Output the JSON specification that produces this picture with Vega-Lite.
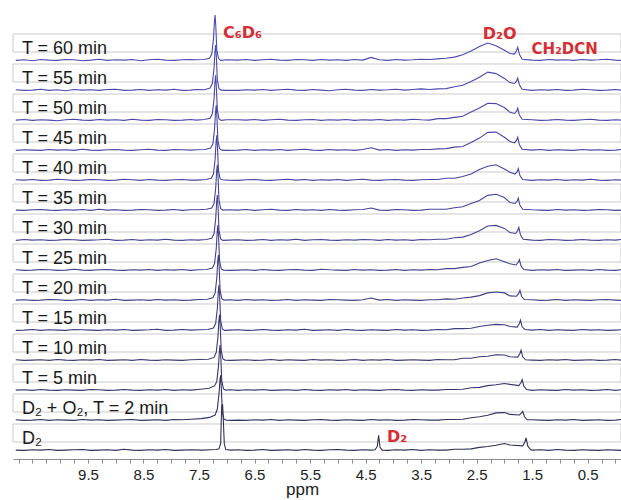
{
"$schema": "https://vega.github.io/schema/vega-lite/v6.json",
"width": 608, "height": 420,
"autosize": {"type": "none"},
"padding": {"left": 13, "top": 34, "right": 0, "bottom": 46},
"background": "white",
"config": {"view": {"stroke": null}, "font": "Liberation Sans",
  "axisX": {"grid": false, "offset": 5, "domainColor": "#8c8c8c", "tickColor": "#8c8c8c", "tickSize": 4,
            "labelFontSize": 15, "labelColor": "#222222", "labelPadding": 4, "labelFont": "Liberation Sans",
            "labelOverlap": false, "labelFlush": false,
            "titleFontSize": 17, "titleFontWeight": "normal", "titleColor": "#222222", "titleFont": "Liberation Sans"}},
"datasets": {
"rows": [{"k":"a","label":"T = 60 min"},{"k":"b","label":"T = 55 min"},{"k":"c","label":"T = 50 min"},{"k":"d","label":"T = 45 min"},{"k":"e","label":"T = 40 min"},{"k":"f","label":"T = 35 min"},{"k":"g","label":"T = 30 min"},{"k":"h","label":"T = 25 min"},{"k":"i","label":"T = 20 min"},{"k":"j","label":"T = 15 min"},{"k":"k","label":"T = 10 min"},{"k":"l","label":"T = 5 min"},{"k":"m","label":"D₂ + O₂, T = 2 min"},{"k":"n","label":"D₂"}],
"spec": [
{"k":"a","x":10.8,"y":12},{"k":"a","x":10.65,"y":14},{"k":"a","x":10.5,"y":11},{"k":"a","x":10.35,"y":15},{"k":"a","x":10.2,"y":13},{"k":"a","x":10.05,"y":12},{"k":"a","x":9.9,"y":15},{"k":"a","x":9.75,"y":14},{"k":"a","x":9.6,"y":11},{"k":"a","x":9.45,"y":13},{"k":"a","x":9.3,"y":16},{"k":"a","x":9.15,"y":12},{"k":"a","x":9.0,"y":14},{"k":"a","x":8.85,"y":13},{"k":"a","x":8.7,"y":15},{"k":"a","x":8.55,"y":11},{"k":"a","x":8.4,"y":14},{"k":"a","x":8.25,"y":16},{"k":"a","x":8.1,"y":13},{"k":"a","x":7.95,"y":12},{"k":"a","x":7.8,"y":14},{"k":"a","x":7.65,"y":15},
{"k":"a","x":7.56,"y":14},{"k":"a","x":7.41,"y":15},{"k":"a","x":7.31,"y":19},{"k":"a","x":7.27,"y":33},{"k":"a","x":7.24,"y":83},{"k":"a","x":7.222,"y":143},{"k":"a","x":7.21,"y":163},{"k":"a","x":7.198,"y":128},{"k":"a","x":7.18,"y":48},{"k":"a","x":7.15,"y":19},{"k":"a","x":7.11,"y":12},{"k":"a","x":7.01,"y":14},
{"k":"a","x":6.8,"y":13},{"k":"a","x":6.65,"y":15},{"k":"a","x":6.5,"y":12},{"k":"a","x":6.35,"y":14},{"k":"a","x":6.2,"y":16},{"k":"a","x":6.05,"y":13},{"k":"a","x":5.9,"y":12},{"k":"a","x":5.75,"y":15},{"k":"a","x":5.6,"y":14},{"k":"a","x":5.45,"y":12},{"k":"a","x":5.3,"y":15},{"k":"a","x":5.15,"y":13},{"k":"a","x":5.0,"y":14},{"k":"a","x":4.85,"y":12},{"k":"a","x":4.7,"y":15},{"k":"a","x":4.55,"y":13},{"k":"a","x":4.4,"y":22},{"k":"a","x":4.25,"y":14},{"k":"a","x":4.1,"y":12},{"k":"a","x":3.95,"y":15},{"k":"a","x":3.8,"y":13},{"k":"a","x":3.65,"y":14},{"k":"a","x":3.5,"y":16},{"k":"a","x":3.35,"y":15},{"k":"a","x":3.2,"y":17},{"k":"a","x":3.05,"y":19},{"k":"a","x":2.9,"y":23},{"k":"a","x":2.75,"y":31},{"k":"a","x":2.6,"y":43},{"k":"a","x":2.45,"y":58},{"k":"a","x":2.3,"y":70},{"k":"a","x":2.15,"y":61},{"k":"a","x":2.0,"y":46},{"k":"a","x":1.9,"y":35},
{"k":"a","x":1.82,"y":33},{"k":"a","x":1.78,"y":45},{"k":"a","x":1.76,"y":56},{"k":"a","x":1.73,"y":32},{"k":"a","x":1.68,"y":16},
{"k":"a","x":1.5,"y":13},{"k":"a","x":1.35,"y":12},{"k":"a","x":1.2,"y":15},{"k":"a","x":1.05,"y":13},{"k":"a","x":0.9,"y":14},{"k":"a","x":0.75,"y":12},{"k":"a","x":0.6,"y":15},{"k":"a","x":0.45,"y":13},{"k":"a","x":0.3,"y":14},{"k":"a","x":0.15,"y":16},{"k":"a","x":0.0,"y":13},{"k":"a","x":-0.1,"y":12},

{"k":"b","x":10.8,"y":14},{"k":"b","x":10.65,"y":12},{"k":"b","x":10.5,"y":13},{"k":"b","x":10.35,"y":16},{"k":"b","x":10.2,"y":12},{"k":"b","x":10.05,"y":14},{"k":"b","x":9.9,"y":11},{"k":"b","x":9.75,"y":15},{"k":"b","x":9.6,"y":13},{"k":"b","x":9.45,"y":14},{"k":"b","x":9.3,"y":12},{"k":"b","x":9.15,"y":15},{"k":"b","x":9.0,"y":16},{"k":"b","x":8.85,"y":12},{"k":"b","x":8.7,"y":13},{"k":"b","x":8.55,"y":15},{"k":"b","x":8.4,"y":12},{"k":"b","x":8.25,"y":14},{"k":"b","x":8.1,"y":13},{"k":"b","x":7.95,"y":16},{"k":"b","x":7.8,"y":12},{"k":"b","x":7.65,"y":13},
{"k":"b","x":7.55,"y":15},{"k":"b","x":7.4,"y":14},{"k":"b","x":7.3,"y":20},{"k":"b","x":7.26,"y":35},{"k":"b","x":7.23,"y":85},{"k":"b","x":7.212,"y":142},{"k":"b","x":7.2,"y":163},{"k":"b","x":7.188,"y":126},{"k":"b","x":7.17,"y":46},{"k":"b","x":7.14,"y":18},{"k":"b","x":7.1,"y":13},{"k":"b","x":7.0,"y":12},
{"k":"b","x":6.8,"y":12},{"k":"b","x":6.65,"y":14},{"k":"b","x":6.5,"y":13},{"k":"b","x":6.35,"y":15},{"k":"b","x":6.2,"y":12},{"k":"b","x":6.05,"y":14},{"k":"b","x":5.9,"y":16},{"k":"b","x":5.75,"y":13},{"k":"b","x":5.6,"y":12},{"k":"b","x":5.45,"y":15},{"k":"b","x":5.3,"y":13},{"k":"b","x":5.15,"y":11},{"k":"b","x":5.0,"y":14},{"k":"b","x":4.85,"y":16},{"k":"b","x":4.7,"y":13},{"k":"b","x":4.55,"y":12},{"k":"b","x":4.4,"y":15},{"k":"b","x":4.25,"y":13},{"k":"b","x":4.1,"y":14},{"k":"b","x":3.95,"y":16},{"k":"b","x":3.8,"y":13},{"k":"b","x":3.65,"y":15},{"k":"b","x":3.5,"y":17},{"k":"b","x":3.35,"y":15},{"k":"b","x":3.2,"y":17},{"k":"b","x":3.05,"y":18},{"k":"b","x":2.9,"y":24},{"k":"b","x":2.75,"y":29},{"k":"b","x":2.6,"y":42},{"k":"b","x":2.45,"y":56},{"k":"b","x":2.3,"y":73},{"k":"b","x":2.15,"y":68},{"k":"b","x":2.0,"y":52},{"k":"b","x":1.9,"y":38},
{"k":"b","x":1.82,"y":35},{"k":"b","x":1.78,"y":43},{"k":"b","x":1.76,"y":53},{"k":"b","x":1.73,"y":31},{"k":"b","x":1.68,"y":16},
{"k":"b","x":1.5,"y":12},{"k":"b","x":1.35,"y":14},{"k":"b","x":1.2,"y":13},{"k":"b","x":1.05,"y":15},{"k":"b","x":0.9,"y":12},{"k":"b","x":0.75,"y":13},{"k":"b","x":0.6,"y":16},{"k":"b","x":0.45,"y":14},{"k":"b","x":0.3,"y":12},{"k":"b","x":0.15,"y":13},{"k":"b","x":0.0,"y":15},{"k":"b","x":-0.1,"y":13},

{"k":"c","x":10.8,"y":13},{"k":"c","x":10.65,"y":15},{"k":"c","x":10.5,"y":12},{"k":"c","x":10.35,"y":14},{"k":"c","x":10.2,"y":13},{"k":"c","x":10.05,"y":11},{"k":"c","x":9.9,"y":14},{"k":"c","x":9.75,"y":16},{"k":"c","x":9.6,"y":13},{"k":"c","x":9.45,"y":12},{"k":"c","x":9.3,"y":15},{"k":"c","x":9.15,"y":13},{"k":"c","x":9.0,"y":14},{"k":"c","x":8.85,"y":12},{"k":"c","x":8.7,"y":16},{"k":"c","x":8.55,"y":13},{"k":"c","x":8.4,"y":12},{"k":"c","x":8.25,"y":15},{"k":"c","x":8.1,"y":14},{"k":"c","x":7.95,"y":12},{"k":"c","x":7.8,"y":13},{"k":"c","x":7.65,"y":15},
{"k":"c","x":7.55,"y":13},{"k":"c","x":7.4,"y":15},{"k":"c","x":7.3,"y":19},{"k":"c","x":7.26,"y":34},{"k":"c","x":7.23,"y":82},{"k":"c","x":7.212,"y":140},{"k":"c","x":7.2,"y":162},{"k":"c","x":7.188,"y":125},{"k":"c","x":7.17,"y":47},{"k":"c","x":7.14,"y":17},{"k":"c","x":7.1,"y":12},{"k":"c","x":7.0,"y":14},
{"k":"c","x":6.8,"y":14},{"k":"c","x":6.65,"y":13},{"k":"c","x":6.5,"y":15},{"k":"c","x":6.35,"y":12},{"k":"c","x":6.2,"y":14},{"k":"c","x":6.05,"y":16},{"k":"c","x":5.9,"y":13},{"k":"c","x":5.75,"y":12},{"k":"c","x":5.6,"y":14},{"k":"c","x":5.45,"y":15},{"k":"c","x":5.3,"y":12},{"k":"c","x":5.15,"y":14},{"k":"c","x":5.0,"y":13},{"k":"c","x":4.85,"y":15},{"k":"c","x":4.7,"y":12},{"k":"c","x":4.55,"y":14},{"k":"c","x":4.4,"y":13},{"k":"c","x":4.25,"y":15},{"k":"c","x":4.1,"y":12},{"k":"c","x":3.95,"y":14},{"k":"c","x":3.8,"y":13},{"k":"c","x":3.65,"y":16},{"k":"c","x":3.5,"y":14},{"k":"c","x":3.35,"y":13},{"k":"c","x":3.2,"y":18},{"k":"c","x":3.05,"y":18},{"k":"c","x":2.9,"y":22},{"k":"c","x":2.75,"y":26},{"k":"c","x":2.6,"y":40},{"k":"c","x":2.45,"y":53},{"k":"c","x":2.3,"y":69},{"k":"c","x":2.15,"y":68},{"k":"c","x":2.0,"y":55},{"k":"c","x":1.9,"y":39},
{"k":"c","x":1.82,"y":35},{"k":"c","x":1.78,"y":43},{"k":"c","x":1.76,"y":53},{"k":"c","x":1.73,"y":30},{"k":"c","x":1.68,"y":16},
{"k":"c","x":1.5,"y":14},{"k":"c","x":1.35,"y":12},{"k":"c","x":1.2,"y":13},{"k":"c","x":1.05,"y":15},{"k":"c","x":0.9,"y":13},{"k":"c","x":0.75,"y":12},{"k":"c","x":0.6,"y":14},{"k":"c","x":0.45,"y":16},{"k":"c","x":0.3,"y":13},{"k":"c","x":0.15,"y":12},{"k":"c","x":0.0,"y":14},{"k":"c","x":-0.1,"y":13},

{"k":"d","x":10.8,"y":12},{"k":"d","x":10.65,"y":14},{"k":"d","x":10.5,"y":13},{"k":"d","x":10.35,"y":12},{"k":"d","x":10.2,"y":15},{"k":"d","x":10.05,"y":13},{"k":"d","x":9.9,"y":14},{"k":"d","x":9.75,"y":12},{"k":"d","x":9.6,"y":16},{"k":"d","x":9.45,"y":13},{"k":"d","x":9.3,"y":12},{"k":"d","x":9.15,"y":14},{"k":"d","x":9.0,"y":15},{"k":"d","x":8.85,"y":13},{"k":"d","x":8.7,"y":12},{"k":"d","x":8.55,"y":14},{"k":"d","x":8.4,"y":16},{"k":"d","x":8.25,"y":13},{"k":"d","x":8.1,"y":12},{"k":"d","x":7.95,"y":15},{"k":"d","x":7.8,"y":14},{"k":"d","x":7.65,"y":13},
{"k":"d","x":7.54,"y":14},{"k":"d","x":7.39,"y":15},{"k":"d","x":7.29,"y":20},{"k":"d","x":7.25,"y":34},{"k":"d","x":7.22,"y":84},{"k":"d","x":7.202,"y":141},{"k":"d","x":7.19,"y":163},{"k":"d","x":7.178,"y":127},{"k":"d","x":7.16,"y":45},{"k":"d","x":7.13,"y":18},{"k":"d","x":7.09,"y":13},{"k":"d","x":6.99,"y":12},
{"k":"d","x":6.8,"y":13},{"k":"d","x":6.65,"y":15},{"k":"d","x":6.5,"y":12},{"k":"d","x":6.35,"y":14},{"k":"d","x":6.2,"y":13},{"k":"d","x":6.05,"y":15},{"k":"d","x":5.9,"y":12},{"k":"d","x":5.75,"y":14},{"k":"d","x":5.6,"y":16},{"k":"d","x":5.45,"y":13},{"k":"d","x":5.3,"y":12},{"k":"d","x":5.15,"y":15},{"k":"d","x":5.0,"y":13},{"k":"d","x":4.85,"y":14},{"k":"d","x":4.7,"y":12},{"k":"d","x":4.55,"y":15},{"k":"d","x":4.4,"y":21},{"k":"d","x":4.25,"y":13},{"k":"d","x":4.1,"y":15},{"k":"d","x":3.95,"y":12},{"k":"d","x":3.8,"y":14},{"k":"d","x":3.65,"y":13},{"k":"d","x":3.5,"y":15},{"k":"d","x":3.35,"y":15},{"k":"d","x":3.2,"y":17},{"k":"d","x":3.05,"y":18},{"k":"d","x":2.9,"y":23},{"k":"d","x":2.75,"y":25},{"k":"d","x":2.6,"y":38},{"k":"d","x":2.45,"y":53},{"k":"d","x":2.3,"y":72},{"k":"d","x":2.15,"y":73},{"k":"d","x":2.0,"y":56},{"k":"d","x":1.9,"y":42},
{"k":"d","x":1.82,"y":37},{"k":"d","x":1.78,"y":46},{"k":"d","x":1.76,"y":56},{"k":"d","x":1.73,"y":31},{"k":"d","x":1.68,"y":16},
{"k":"d","x":1.5,"y":13},{"k":"d","x":1.35,"y":15},{"k":"d","x":1.2,"y":12},{"k":"d","x":1.05,"y":14},{"k":"d","x":0.9,"y":13},{"k":"d","x":0.75,"y":12},{"k":"d","x":0.6,"y":15},{"k":"d","x":0.45,"y":13},{"k":"d","x":0.3,"y":14},{"k":"d","x":0.15,"y":12},{"k":"d","x":0.0,"y":13},{"k":"d","x":-0.1,"y":15},

{"k":"e","x":10.8,"y":14},{"k":"e","x":10.65,"y":13},{"k":"e","x":10.5,"y":15},{"k":"e","x":10.35,"y":12},{"k":"e","x":10.2,"y":13},{"k":"e","x":10.05,"y":16},{"k":"e","x":9.9,"y":14},{"k":"e","x":9.75,"y":12},{"k":"e","x":9.6,"y":13},{"k":"e","x":9.45,"y":15},{"k":"e","x":9.3,"y":14},{"k":"e","x":9.15,"y":12},{"k":"e","x":9.0,"y":13},{"k":"e","x":8.85,"y":16},{"k":"e","x":8.7,"y":14},{"k":"e","x":8.55,"y":12},{"k":"e","x":8.4,"y":15},{"k":"e","x":8.25,"y":13},{"k":"e","x":8.1,"y":12},{"k":"e","x":7.95,"y":14},{"k":"e","x":7.8,"y":15},{"k":"e","x":7.65,"y":13},
{"k":"e","x":7.53,"y":13},{"k":"e","x":7.38,"y":15},{"k":"e","x":7.28,"y":19},{"k":"e","x":7.24,"y":33},{"k":"e","x":7.21,"y":82},{"k":"e","x":7.192,"y":142},{"k":"e","x":7.18,"y":162},{"k":"e","x":7.168,"y":126},{"k":"e","x":7.15,"y":46},{"k":"e","x":7.12,"y":17},{"k":"e","x":7.08,"y":14},{"k":"e","x":6.98,"y":13},
{"k":"e","x":6.8,"y":12},{"k":"e","x":6.65,"y":14},{"k":"e","x":6.5,"y":15},{"k":"e","x":6.35,"y":13},{"k":"e","x":6.2,"y":12},{"k":"e","x":6.05,"y":14},{"k":"e","x":5.9,"y":16},{"k":"e","x":5.75,"y":13},{"k":"e","x":5.6,"y":15},{"k":"e","x":5.45,"y":12},{"k":"e","x":5.3,"y":14},{"k":"e","x":5.15,"y":13},{"k":"e","x":5.0,"y":15},{"k":"e","x":4.85,"y":12},{"k":"e","x":4.7,"y":14},{"k":"e","x":4.55,"y":16},{"k":"e","x":4.4,"y":13},{"k":"e","x":4.25,"y":12},{"k":"e","x":4.1,"y":14},{"k":"e","x":3.95,"y":15},{"k":"e","x":3.8,"y":13},{"k":"e","x":3.65,"y":12},{"k":"e","x":3.5,"y":14},{"k":"e","x":3.35,"y":15},{"k":"e","x":3.2,"y":15},{"k":"e","x":3.05,"y":19},{"k":"e","x":2.9,"y":19},{"k":"e","x":2.75,"y":25},{"k":"e","x":2.6,"y":33},{"k":"e","x":2.45,"y":48},{"k":"e","x":2.3,"y":59},{"k":"e","x":2.15,"y":64},{"k":"e","x":2.0,"y":50},{"k":"e","x":1.9,"y":39},
{"k":"e","x":1.81,"y":33},{"k":"e","x":1.77,"y":41},{"k":"e","x":1.75,"y":51},{"k":"e","x":1.72,"y":28},{"k":"e","x":1.67,"y":15},
{"k":"e","x":1.5,"y":12},{"k":"e","x":1.35,"y":14},{"k":"e","x":1.2,"y":13},{"k":"e","x":1.05,"y":15},{"k":"e","x":0.9,"y":12},{"k":"e","x":0.75,"y":14},{"k":"e","x":0.6,"y":13},{"k":"e","x":0.45,"y":16},{"k":"e","x":0.3,"y":13},{"k":"e","x":0.15,"y":12},{"k":"e","x":0.0,"y":14},{"k":"e","x":-0.1,"y":13},

{"k":"f","x":10.8,"y":13},{"k":"f","x":10.65,"y":12},{"k":"f","x":10.5,"y":14},{"k":"f","x":10.35,"y":15},{"k":"f","x":10.2,"y":13},{"k":"f","x":10.05,"y":12},{"k":"f","x":9.9,"y":14},{"k":"f","x":9.75,"y":13},{"k":"f","x":9.6,"y":15},{"k":"f","x":9.45,"y":12},{"k":"f","x":9.3,"y":16},{"k":"f","x":9.15,"y":13},{"k":"f","x":9.0,"y":14},{"k":"f","x":8.85,"y":12},{"k":"f","x":8.7,"y":13},{"k":"f","x":8.55,"y":15},{"k":"f","x":8.4,"y":14},{"k":"f","x":8.25,"y":12},{"k":"f","x":8.1,"y":13},{"k":"f","x":7.95,"y":15},{"k":"f","x":7.8,"y":12},{"k":"f","x":7.65,"y":14},
{"k":"f","x":7.52,"y":14},{"k":"f","x":7.37,"y":16},{"k":"f","x":7.27,"y":20},{"k":"f","x":7.23,"y":35},{"k":"f","x":7.2,"y":85},{"k":"f","x":7.182,"y":143},{"k":"f","x":7.17,"y":164},{"k":"f","x":7.158,"y":128},{"k":"f","x":7.14,"y":47},{"k":"f","x":7.11,"y":18},{"k":"f","x":7.07,"y":13},{"k":"f","x":6.97,"y":14},
{"k":"f","x":6.8,"y":13},{"k":"f","x":6.65,"y":15},{"k":"f","x":6.5,"y":12},{"k":"f","x":6.35,"y":14},{"k":"f","x":6.2,"y":16},{"k":"f","x":6.05,"y":13},{"k":"f","x":5.9,"y":12},{"k":"f","x":5.75,"y":15},{"k":"f","x":5.6,"y":13},{"k":"f","x":5.45,"y":14},{"k":"f","x":5.3,"y":12},{"k":"f","x":5.15,"y":15},{"k":"f","x":5.0,"y":13},{"k":"f","x":4.85,"y":12},{"k":"f","x":4.7,"y":14},{"k":"f","x":4.55,"y":15},{"k":"f","x":4.4,"y":20},{"k":"f","x":4.25,"y":13},{"k":"f","x":4.1,"y":12},{"k":"f","x":3.95,"y":15},{"k":"f","x":3.8,"y":14},{"k":"f","x":3.65,"y":12},{"k":"f","x":3.5,"y":13},{"k":"f","x":3.35,"y":16},{"k":"f","x":3.2,"y":16},{"k":"f","x":3.05,"y":16},{"k":"f","x":2.9,"y":21},{"k":"f","x":2.75,"y":24},{"k":"f","x":2.6,"y":35},{"k":"f","x":2.45,"y":45},{"k":"f","x":2.3,"y":62},{"k":"f","x":2.15,"y":66},{"k":"f","x":2.0,"y":55},{"k":"f","x":1.9,"y":38},
{"k":"f","x":1.81,"y":35},{"k":"f","x":1.77,"y":43},{"k":"f","x":1.75,"y":53},{"k":"f","x":1.72,"y":29},{"k":"f","x":1.67,"y":16},
{"k":"f","x":1.5,"y":14},{"k":"f","x":1.35,"y":13},{"k":"f","x":1.2,"y":12},{"k":"f","x":1.05,"y":15},{"k":"f","x":0.9,"y":13},{"k":"f","x":0.75,"y":14},{"k":"f","x":0.6,"y":12},{"k":"f","x":0.45,"y":13},{"k":"f","x":0.3,"y":15},{"k":"f","x":0.15,"y":14},{"k":"f","x":0.0,"y":12},{"k":"f","x":-0.1,"y":13},

{"k":"g","x":10.8,"y":12},{"k":"g","x":10.65,"y":15},{"k":"g","x":10.5,"y":13},{"k":"g","x":10.35,"y":14},{"k":"g","x":10.2,"y":12},{"k":"g","x":10.05,"y":13},{"k":"g","x":9.9,"y":15},{"k":"g","x":9.75,"y":14},{"k":"g","x":9.6,"y":12},{"k":"g","x":9.45,"y":13},{"k":"g","x":9.3,"y":14},{"k":"g","x":9.15,"y":16},{"k":"g","x":9.0,"y":12},{"k":"g","x":8.85,"y":13},{"k":"g","x":8.7,"y":15},{"k":"g","x":8.55,"y":12},{"k":"g","x":8.4,"y":14},{"k":"g","x":8.25,"y":13},{"k":"g","x":8.1,"y":16},{"k":"g","x":7.95,"y":13},{"k":"g","x":7.8,"y":12},{"k":"g","x":7.65,"y":14},
{"k":"g","x":7.52,"y":13},{"k":"g","x":7.37,"y":15},{"k":"g","x":7.27,"y":19},{"k":"g","x":7.23,"y":34},{"k":"g","x":7.2,"y":83},{"k":"g","x":7.182,"y":141},{"k":"g","x":7.17,"y":163},{"k":"g","x":7.158,"y":127},{"k":"g","x":7.14,"y":46},{"k":"g","x":7.11,"y":17},{"k":"g","x":7.07,"y":12},{"k":"g","x":6.97,"y":13},
{"k":"g","x":6.8,"y":14},{"k":"g","x":6.65,"y":12},{"k":"g","x":6.5,"y":13},{"k":"g","x":6.35,"y":15},{"k":"g","x":6.2,"y":12},{"k":"g","x":6.05,"y":14},{"k":"g","x":5.9,"y":13},{"k":"g","x":5.75,"y":16},{"k":"g","x":5.6,"y":12},{"k":"g","x":5.45,"y":14},{"k":"g","x":5.3,"y":15},{"k":"g","x":5.15,"y":13},{"k":"g","x":5.0,"y":12},{"k":"g","x":4.85,"y":14},{"k":"g","x":4.7,"y":13},{"k":"g","x":4.55,"y":15},{"k":"g","x":4.4,"y":14},{"k":"g","x":4.25,"y":12},{"k":"g","x":4.1,"y":15},{"k":"g","x":3.95,"y":13},{"k":"g","x":3.8,"y":14},{"k":"g","x":3.65,"y":12},{"k":"g","x":3.5,"y":15},{"k":"g","x":3.35,"y":14},{"k":"g","x":3.2,"y":16},{"k":"g","x":3.05,"y":16},{"k":"g","x":2.9,"y":21},{"k":"g","x":2.75,"y":23},{"k":"g","x":2.6,"y":32},{"k":"g","x":2.45,"y":44},{"k":"g","x":2.3,"y":60},{"k":"g","x":2.15,"y":62},{"k":"g","x":2.0,"y":52},{"k":"g","x":1.9,"y":38},
{"k":"g","x":1.8,"y":35},{"k":"g","x":1.76,"y":45},{"k":"g","x":1.74,"y":55},{"k":"g","x":1.71,"y":30},{"k":"g","x":1.66,"y":16},
{"k":"g","x":1.5,"y":13},{"k":"g","x":1.35,"y":12},{"k":"g","x":1.2,"y":15},{"k":"g","x":1.05,"y":14},{"k":"g","x":0.9,"y":12},{"k":"g","x":0.75,"y":13},{"k":"g","x":0.6,"y":15},{"k":"g","x":0.45,"y":13},{"k":"g","x":0.3,"y":12},{"k":"g","x":0.15,"y":14},{"k":"g","x":0.0,"y":13},{"k":"g","x":-0.1,"y":15},

{"k":"h","x":10.8,"y":14},{"k":"h","x":10.65,"y":12},{"k":"h","x":10.5,"y":13},{"k":"h","x":10.35,"y":15},{"k":"h","x":10.2,"y":14},{"k":"h","x":10.05,"y":12},{"k":"h","x":9.9,"y":13},{"k":"h","x":9.75,"y":16},{"k":"h","x":9.6,"y":13},{"k":"h","x":9.45,"y":12},{"k":"h","x":9.3,"y":14},{"k":"h","x":9.15,"y":15},{"k":"h","x":9.0,"y":13},{"k":"h","x":8.85,"y":12},{"k":"h","x":8.7,"y":14},{"k":"h","x":8.55,"y":13},{"k":"h","x":8.4,"y":15},{"k":"h","x":8.25,"y":12},{"k":"h","x":8.1,"y":14},{"k":"h","x":7.95,"y":13},{"k":"h","x":7.8,"y":15},{"k":"h","x":7.65,"y":12},
{"k":"h","x":7.51,"y":14},{"k":"h","x":7.36,"y":15},{"k":"h","x":7.26,"y":20},{"k":"h","x":7.22,"y":35},{"k":"h","x":7.19,"y":84},{"k":"h","x":7.172,"y":142},{"k":"h","x":7.16,"y":163},{"k":"h","x":7.148,"y":126},{"k":"h","x":7.13,"y":45},{"k":"h","x":7.1,"y":17},{"k":"h","x":7.06,"y":13},{"k":"h","x":6.96,"y":12},
{"k":"h","x":6.8,"y":13},{"k":"h","x":6.65,"y":14},{"k":"h","x":6.5,"y":12},{"k":"h","x":6.35,"y":15},{"k":"h","x":6.2,"y":13},{"k":"h","x":6.05,"y":12},{"k":"h","x":5.9,"y":14},{"k":"h","x":5.75,"y":15},{"k":"h","x":5.6,"y":13},{"k":"h","x":5.45,"y":12},{"k":"h","x":5.3,"y":16},{"k":"h","x":5.15,"y":14},{"k":"h","x":5.0,"y":13},{"k":"h","x":4.85,"y":12},{"k":"h","x":4.7,"y":15},{"k":"h","x":4.55,"y":13},{"k":"h","x":4.4,"y":14},{"k":"h","x":4.25,"y":12},{"k":"h","x":4.1,"y":13},{"k":"h","x":3.95,"y":15},{"k":"h","x":3.8,"y":12},{"k":"h","x":3.65,"y":14},{"k":"h","x":3.5,"y":13},{"k":"h","x":3.35,"y":15},{"k":"h","x":3.2,"y":14},{"k":"h","x":3.05,"y":18},{"k":"h","x":2.9,"y":18},{"k":"h","x":2.75,"y":22},{"k":"h","x":2.6,"y":25},{"k":"h","x":2.45,"y":37},{"k":"h","x":2.3,"y":45},{"k":"h","x":2.15,"y":51},{"k":"h","x":2.0,"y":41},{"k":"h","x":1.9,"y":34},
{"k":"h","x":1.79,"y":30},{"k":"h","x":1.75,"y":39},{"k":"h","x":1.73,"y":48},{"k":"h","x":1.7,"y":27},{"k":"h","x":1.65,"y":15},
{"k":"h","x":1.5,"y":12},{"k":"h","x":1.35,"y":14},{"k":"h","x":1.2,"y":13},{"k":"h","x":1.05,"y":15},{"k":"h","x":0.9,"y":12},{"k":"h","x":0.75,"y":13},{"k":"h","x":0.6,"y":14},{"k":"h","x":0.45,"y":12},{"k":"h","x":0.3,"y":15},{"k":"h","x":0.15,"y":13},{"k":"h","x":0.0,"y":12},{"k":"h","x":-0.1,"y":14},

{"k":"i","x":10.8,"y":13},{"k":"i","x":10.65,"y":14},{"k":"i","x":10.5,"y":12},{"k":"i","x":10.35,"y":13},{"k":"i","x":10.2,"y":15},{"k":"i","x":10.05,"y":14},{"k":"i","x":9.9,"y":12},{"k":"i","x":9.75,"y":13},{"k":"i","x":9.6,"y":15},{"k":"i","x":9.45,"y":12},{"k":"i","x":9.3,"y":14},{"k":"i","x":9.15,"y":13},{"k":"i","x":9.0,"y":16},{"k":"i","x":8.85,"y":12},{"k":"i","x":8.7,"y":13},{"k":"i","x":8.55,"y":14},{"k":"i","x":8.4,"y":12},{"k":"i","x":8.25,"y":15},{"k":"i","x":8.1,"y":13},{"k":"i","x":7.95,"y":14},{"k":"i","x":7.8,"y":12},{"k":"i","x":7.65,"y":13},
{"k":"i","x":7.5,"y":15},{"k":"i","x":7.35,"y":16},{"k":"i","x":7.25,"y":21},{"k":"i","x":7.21,"y":36},{"k":"i","x":7.18,"y":86},{"k":"i","x":7.162,"y":144},{"k":"i","x":7.15,"y":164},{"k":"i","x":7.138,"y":127},{"k":"i","x":7.12,"y":46},{"k":"i","x":7.09,"y":18},{"k":"i","x":7.05,"y":13},{"k":"i","x":6.95,"y":14},
{"k":"i","x":6.8,"y":12},{"k":"i","x":6.65,"y":15},{"k":"i","x":6.5,"y":13},{"k":"i","x":6.35,"y":14},{"k":"i","x":6.2,"y":12},{"k":"i","x":6.05,"y":13},{"k":"i","x":5.9,"y":15},{"k":"i","x":5.75,"y":12},{"k":"i","x":5.6,"y":14},{"k":"i","x":5.45,"y":13},{"k":"i","x":5.3,"y":12},{"k":"i","x":5.15,"y":15},{"k":"i","x":5.0,"y":14},{"k":"i","x":4.85,"y":13},{"k":"i","x":4.7,"y":12},{"k":"i","x":4.55,"y":14},{"k":"i","x":4.4,"y":20},{"k":"i","x":4.25,"y":13},{"k":"i","x":4.1,"y":15},{"k":"i","x":3.95,"y":12},{"k":"i","x":3.8,"y":14},{"k":"i","x":3.65,"y":13},{"k":"i","x":3.5,"y":12},{"k":"i","x":3.35,"y":14},{"k":"i","x":3.2,"y":14},{"k":"i","x":3.05,"y":17},{"k":"i","x":2.9,"y":16},{"k":"i","x":2.75,"y":20},{"k":"i","x":2.6,"y":23},{"k":"i","x":2.45,"y":28},{"k":"i","x":2.3,"y":37},{"k":"i","x":2.15,"y":40},{"k":"i","x":2.0,"y":37},{"k":"i","x":1.9,"y":27},
{"k":"i","x":1.78,"y":26},{"k":"i","x":1.74,"y":36},{"k":"i","x":1.72,"y":46},{"k":"i","x":1.69,"y":25},{"k":"i","x":1.64,"y":15},
{"k":"i","x":1.5,"y":14},{"k":"i","x":1.35,"y":12},{"k":"i","x":1.2,"y":13},{"k":"i","x":1.05,"y":15},{"k":"i","x":0.9,"y":12},{"k":"i","x":0.75,"y":14},{"k":"i","x":0.6,"y":13},{"k":"i","x":0.45,"y":12},{"k":"i","x":0.3,"y":14},{"k":"i","x":0.15,"y":15},{"k":"i","x":0.0,"y":13},{"k":"i","x":-0.1,"y":12},

{"k":"j","x":10.8,"y":12},{"k":"j","x":10.65,"y":13},{"k":"j","x":10.5,"y":15},{"k":"j","x":10.35,"y":12},{"k":"j","x":10.2,"y":14},{"k":"j","x":10.05,"y":13},{"k":"j","x":9.9,"y":12},{"k":"j","x":9.75,"y":15},{"k":"j","x":9.6,"y":14},{"k":"j","x":9.45,"y":13},{"k":"j","x":9.3,"y":12},{"k":"j","x":9.15,"y":14},{"k":"j","x":9.0,"y":13},{"k":"j","x":8.85,"y":15},{"k":"j","x":8.7,"y":12},{"k":"j","x":8.55,"y":13},{"k":"j","x":8.4,"y":14},{"k":"j","x":8.25,"y":16},{"k":"j","x":8.1,"y":12},{"k":"j","x":7.95,"y":13},{"k":"j","x":7.8,"y":15},{"k":"j","x":7.65,"y":13},
{"k":"j","x":7.49,"y":14},{"k":"j","x":7.34,"y":15},{"k":"j","x":7.24,"y":20},{"k":"j","x":7.2,"y":35},{"k":"j","x":7.17,"y":85},{"k":"j","x":7.152,"y":143},{"k":"j","x":7.14,"y":163},{"k":"j","x":7.128,"y":126},{"k":"j","x":7.11,"y":45},{"k":"j","x":7.08,"y":17},{"k":"j","x":7.04,"y":12},{"k":"j","x":6.94,"y":13},
{"k":"j","x":6.8,"y":14},{"k":"j","x":6.65,"y":12},{"k":"j","x":6.5,"y":13},{"k":"j","x":6.35,"y":15},{"k":"j","x":6.2,"y":13},{"k":"j","x":6.05,"y":12},{"k":"j","x":5.9,"y":14},{"k":"j","x":5.75,"y":13},{"k":"j","x":5.6,"y":16},{"k":"j","x":5.45,"y":12},{"k":"j","x":5.3,"y":13},{"k":"j","x":5.15,"y":14},{"k":"j","x":5.0,"y":12},{"k":"j","x":4.85,"y":15},{"k":"j","x":4.7,"y":13},{"k":"j","x":4.55,"y":12},{"k":"j","x":4.4,"y":14},{"k":"j","x":4.25,"y":13},{"k":"j","x":4.1,"y":12},{"k":"j","x":3.95,"y":15},{"k":"j","x":3.8,"y":13},{"k":"j","x":3.65,"y":14},{"k":"j","x":3.5,"y":12},{"k":"j","x":3.35,"y":13},{"k":"j","x":3.2,"y":15},{"k":"j","x":3.05,"y":14},{"k":"j","x":2.9,"y":18},{"k":"j","x":2.75,"y":18},{"k":"j","x":2.6,"y":19},{"k":"j","x":2.45,"y":25},{"k":"j","x":2.3,"y":29},{"k":"j","x":2.15,"y":32},{"k":"j","x":2.0,"y":31},{"k":"j","x":1.9,"y":25},
{"k":"j","x":1.77,"y":23},{"k":"j","x":1.73,"y":35},{"k":"j","x":1.71,"y":46},{"k":"j","x":1.68,"y":24},{"k":"j","x":1.63,"y":15},
{"k":"j","x":1.5,"y":13},{"k":"j","x":1.35,"y":15},{"k":"j","x":1.2,"y":12},{"k":"j","x":1.05,"y":14},{"k":"j","x":0.9,"y":13},{"k":"j","x":0.75,"y":12},{"k":"j","x":0.6,"y":15},{"k":"j","x":0.45,"y":13},{"k":"j","x":0.3,"y":14},{"k":"j","x":0.15,"y":12},{"k":"j","x":0.0,"y":13},{"k":"j","x":-0.1,"y":14},

{"k":"k","x":10.8,"y":14},{"k":"k","x":10.65,"y":12},{"k":"k","x":10.5,"y":13},{"k":"k","x":10.35,"y":14},{"k":"k","x":10.2,"y":12},{"k":"k","x":10.05,"y":15},{"k":"k","x":9.9,"y":13},{"k":"k","x":9.75,"y":12},{"k":"k","x":9.6,"y":14},{"k":"k","x":9.45,"y":13},{"k":"k","x":9.3,"y":15},{"k":"k","x":9.15,"y":12},{"k":"k","x":9.0,"y":13},{"k":"k","x":8.85,"y":14},{"k":"k","x":8.7,"y":12},{"k":"k","x":8.55,"y":15},{"k":"k","x":8.4,"y":13},{"k":"k","x":8.25,"y":12},{"k":"k","x":8.1,"y":14},{"k":"k","x":7.95,"y":13},{"k":"k","x":7.8,"y":12},{"k":"k","x":7.65,"y":14},
{"k":"k","x":7.48,"y":15},{"k":"k","x":7.33,"y":16},{"k":"k","x":7.23,"y":22},{"k":"k","x":7.19,"y":38},{"k":"k","x":7.16,"y":88},{"k":"k","x":7.142,"y":144},{"k":"k","x":7.13,"y":164},{"k":"k","x":7.118,"y":126},{"k":"k","x":7.1,"y":45},{"k":"k","x":7.07,"y":17},{"k":"k","x":7.03,"y":13},{"k":"k","x":6.93,"y":12},
{"k":"k","x":6.8,"y":13},{"k":"k","x":6.65,"y":14},{"k":"k","x":6.5,"y":12},{"k":"k","x":6.35,"y":13},{"k":"k","x":6.2,"y":15},{"k":"k","x":6.05,"y":12},{"k":"k","x":5.9,"y":14},{"k":"k","x":5.75,"y":13},{"k":"k","x":5.6,"y":12},{"k":"k","x":5.45,"y":15},{"k":"k","x":5.3,"y":13},{"k":"k","x":5.15,"y":14},{"k":"k","x":5.0,"y":12},{"k":"k","x":4.85,"y":13},{"k":"k","x":4.7,"y":15},{"k":"k","x":4.55,"y":12},{"k":"k","x":4.4,"y":14},{"k":"k","x":4.25,"y":13},{"k":"k","x":4.1,"y":15},{"k":"k","x":3.95,"y":12},{"k":"k","x":3.8,"y":13},{"k":"k","x":3.65,"y":14},{"k":"k","x":3.5,"y":13},{"k":"k","x":3.35,"y":12},{"k":"k","x":3.2,"y":15},{"k":"k","x":3.05,"y":14},{"k":"k","x":2.9,"y":14},{"k":"k","x":2.75,"y":19},{"k":"k","x":2.6,"y":19},{"k":"k","x":2.45,"y":24},{"k":"k","x":2.3,"y":26},{"k":"k","x":2.15,"y":31},{"k":"k","x":2.0,"y":30},{"k":"k","x":1.9,"y":24},
{"k":"k","x":1.76,"y":23},{"k":"k","x":1.72,"y":35},{"k":"k","x":1.7,"y":46},{"k":"k","x":1.67,"y":24},{"k":"k","x":1.62,"y":14},
{"k":"k","x":1.5,"y":13},{"k":"k","x":1.35,"y":12},{"k":"k","x":1.2,"y":14},{"k":"k","x":1.05,"y":13},{"k":"k","x":0.9,"y":15},{"k":"k","x":0.75,"y":12},{"k":"k","x":0.6,"y":13},{"k":"k","x":0.45,"y":14},{"k":"k","x":0.3,"y":12},{"k":"k","x":0.15,"y":13},{"k":"k","x":0.0,"y":15},{"k":"k","x":-0.1,"y":13},

{"k":"l","x":10.8,"y":13},{"k":"l","x":10.65,"y":14},{"k":"l","x":10.5,"y":12},{"k":"l","x":10.35,"y":15},{"k":"l","x":10.2,"y":13},{"k":"l","x":10.05,"y":12},{"k":"l","x":9.9,"y":14},{"k":"l","x":9.75,"y":13},{"k":"l","x":9.6,"y":12},{"k":"l","x":9.45,"y":15},{"k":"l","x":9.3,"y":14},{"k":"l","x":9.15,"y":12},{"k":"l","x":9.0,"y":13},{"k":"l","x":8.85,"y":15},{"k":"l","x":8.7,"y":13},{"k":"l","x":8.55,"y":12},{"k":"l","x":8.4,"y":14},{"k":"l","x":8.25,"y":13},{"k":"l","x":8.1,"y":15},{"k":"l","x":7.95,"y":12},{"k":"l","x":7.8,"y":14},{"k":"l","x":7.65,"y":13},
{"k":"l","x":7.47,"y":16},{"k":"l","x":7.32,"y":19},{"k":"l","x":7.22,"y":27},{"k":"l","x":7.18,"y":42},{"k":"l","x":7.15,"y":92},{"k":"l","x":7.132,"y":145},{"k":"l","x":7.12,"y":163},{"k":"l","x":7.108,"y":125},{"k":"l","x":7.09,"y":44},{"k":"l","x":7.06,"y":17},{"k":"l","x":7.02,"y":13},{"k":"l","x":6.92,"y":14},
{"k":"l","x":6.8,"y":12},{"k":"l","x":6.65,"y":14},{"k":"l","x":6.5,"y":13},{"k":"l","x":6.35,"y":15},{"k":"l","x":6.2,"y":12},{"k":"l","x":6.05,"y":13},{"k":"l","x":5.9,"y":14},{"k":"l","x":5.75,"y":12},{"k":"l","x":5.6,"y":15},{"k":"l","x":5.45,"y":13},{"k":"l","x":5.3,"y":12},{"k":"l","x":5.15,"y":14},{"k":"l","x":5.0,"y":13},{"k":"l","x":4.85,"y":15},{"k":"l","x":4.7,"y":12},{"k":"l","x":4.55,"y":14},{"k":"l","x":4.4,"y":13},{"k":"l","x":4.25,"y":12},{"k":"l","x":4.1,"y":14},{"k":"l","x":3.95,"y":15},{"k":"l","x":3.8,"y":13},{"k":"l","x":3.65,"y":12},{"k":"l","x":3.5,"y":14},{"k":"l","x":3.35,"y":13},{"k":"l","x":3.2,"y":13},{"k":"l","x":3.05,"y":15},{"k":"l","x":2.9,"y":15},{"k":"l","x":2.75,"y":16},{"k":"l","x":2.6,"y":21},{"k":"l","x":2.45,"y":22},{"k":"l","x":2.3,"y":28},{"k":"l","x":2.15,"y":31},{"k":"l","x":2.0,"y":35},{"k":"l","x":1.9,"y":32},
{"k":"l","x":1.74,"y":28},{"k":"l","x":1.7,"y":38},{"k":"l","x":1.68,"y":48},{"k":"l","x":1.65,"y":26},{"k":"l","x":1.6,"y":15},
{"k":"l","x":1.5,"y":12},{"k":"l","x":1.35,"y":14},{"k":"l","x":1.2,"y":13},{"k":"l","x":1.05,"y":12},{"k":"l","x":0.9,"y":15},{"k":"l","x":0.75,"y":13},{"k":"l","x":0.6,"y":14},{"k":"l","x":0.45,"y":12},{"k":"l","x":0.3,"y":13},{"k":"l","x":0.15,"y":15},{"k":"l","x":0.0,"y":12},{"k":"l","x":-0.1,"y":14},

{"k":"m","x":10.8,"y":14},{"k":"m","x":10.65,"y":12},{"k":"m","x":10.5,"y":13},{"k":"m","x":10.35,"y":15},{"k":"m","x":10.2,"y":12},{"k":"m","x":10.05,"y":14},{"k":"m","x":9.9,"y":13},{"k":"m","x":9.75,"y":12},{"k":"m","x":9.6,"y":15},{"k":"m","x":9.45,"y":13},{"k":"m","x":9.3,"y":14},{"k":"m","x":9.15,"y":12},{"k":"m","x":9.0,"y":13},{"k":"m","x":8.85,"y":14},{"k":"m","x":8.7,"y":15},{"k":"m","x":8.55,"y":12},{"k":"m","x":8.4,"y":13},{"k":"m","x":8.25,"y":14},{"k":"m","x":8.1,"y":12},{"k":"m","x":7.95,"y":15},{"k":"m","x":7.8,"y":14},{"k":"m","x":7.65,"y":16},
{"k":"m","x":7.46,"y":18},{"k":"m","x":7.31,"y":22},{"k":"m","x":7.21,"y":30},{"k":"m","x":7.17,"y":50},{"k":"m","x":7.14,"y":100},{"k":"m","x":7.122,"y":148},{"k":"m","x":7.11,"y":162},{"k":"m","x":7.098,"y":118},{"k":"m","x":7.08,"y":40},{"k":"m","x":7.05,"y":16},{"k":"m","x":7.01,"y":13},{"k":"m","x":6.91,"y":12},
{"k":"m","x":6.8,"y":13},{"k":"m","x":6.65,"y":12},{"k":"m","x":6.5,"y":14},{"k":"m","x":6.35,"y":13},{"k":"m","x":6.2,"y":15},{"k":"m","x":6.05,"y":12},{"k":"m","x":5.9,"y":14},{"k":"m","x":5.75,"y":13},{"k":"m","x":5.6,"y":12},{"k":"m","x":5.45,"y":14},{"k":"m","x":5.3,"y":15},{"k":"m","x":5.15,"y":13},{"k":"m","x":5.0,"y":12},{"k":"m","x":4.85,"y":14},{"k":"m","x":4.7,"y":13},{"k":"m","x":4.55,"y":12},{"k":"m","x":4.4,"y":15},{"k":"m","x":4.25,"y":13},{"k":"m","x":4.1,"y":14},{"k":"m","x":3.95,"y":12},{"k":"m","x":3.8,"y":13},{"k":"m","x":3.65,"y":15},{"k":"m","x":3.5,"y":14},{"k":"m","x":3.35,"y":13},{"k":"m","x":3.2,"y":13},{"k":"m","x":3.05,"y":15},{"k":"m","x":2.9,"y":15},{"k":"m","x":2.75,"y":16},{"k":"m","x":2.6,"y":21},{"k":"m","x":2.45,"y":24},{"k":"m","x":2.3,"y":29},{"k":"m","x":2.15,"y":37},{"k":"m","x":2.0,"y":38},{"k":"m","x":1.9,"y":32},
{"k":"m","x":1.73,"y":30},{"k":"m","x":1.69,"y":37},{"k":"m","x":1.67,"y":42},{"k":"m","x":1.64,"y":25},{"k":"m","x":1.59,"y":14},
{"k":"m","x":1.5,"y":14},{"k":"m","x":1.35,"y":13},{"k":"m","x":1.2,"y":12},{"k":"m","x":1.05,"y":14},{"k":"m","x":0.9,"y":13},{"k":"m","x":0.75,"y":15},{"k":"m","x":0.6,"y":12},{"k":"m","x":0.45,"y":13},{"k":"m","x":0.3,"y":14},{"k":"m","x":0.15,"y":12},{"k":"m","x":0.0,"y":13},{"k":"m","x":-0.1,"y":15},

{"k":"n","x":10.8,"y":13},{"k":"n","x":10.65,"y":12},{"k":"n","x":10.5,"y":14},{"k":"n","x":10.35,"y":13},{"k":"n","x":10.2,"y":15},{"k":"n","x":10.05,"y":12},{"k":"n","x":9.9,"y":13},{"k":"n","x":9.75,"y":14},{"k":"n","x":9.6,"y":15},{"k":"n","x":9.45,"y":12},{"k":"n","x":9.3,"y":13},{"k":"n","x":9.15,"y":14},{"k":"n","x":9.0,"y":12},{"k":"n","x":8.85,"y":16},{"k":"n","x":8.7,"y":13},{"k":"n","x":8.55,"y":12},{"k":"n","x":8.4,"y":14},{"k":"n","x":8.25,"y":13},{"k":"n","x":8.1,"y":15},{"k":"n","x":7.95,"y":12},{"k":"n","x":7.8,"y":13},{"k":"n","x":7.65,"y":14},
{"k":"n","x":7.44,"y":13},{"k":"n","x":7.29,"y":14},{"k":"n","x":7.19,"y":15},{"k":"n","x":7.14,"y":17},{"k":"n","x":7.11,"y":35},{"k":"n","x":7.1,"y":110},{"k":"n","x":7.09,"y":160},{"k":"n","x":7.075,"y":166},{"k":"n","x":7.065,"y":125},{"k":"n","x":7.045,"y":35},{"k":"n","x":7.02,"y":15},{"k":"n","x":6.92,"y":13},
{"k":"n","x":6.8,"y":14},{"k":"n","x":6.65,"y":12},{"k":"n","x":6.5,"y":13},{"k":"n","x":6.35,"y":15},{"k":"n","x":6.2,"y":12},{"k":"n","x":6.05,"y":13},{"k":"n","x":5.9,"y":14},{"k":"n","x":5.75,"y":12},{"k":"n","x":5.6,"y":15},{"k":"n","x":5.45,"y":13},{"k":"n","x":5.3,"y":12},{"k":"n","x":5.15,"y":14},{"k":"n","x":5.0,"y":15},{"k":"n","x":4.85,"y":13},{"k":"n","x":4.7,"y":12},{"k":"n","x":4.55,"y":14},{"k":"n","x":4.4,"y":13},{"k":"n","x":4.33,"y":14},{"k":"n","x":4.29,"y":25},{"k":"n","x":4.265,"y":62},{"k":"n","x":4.24,"y":22},{"k":"n","x":4.2,"y":13},{"k":"n","x":4.1,"y":12},{"k":"n","x":3.95,"y":14},{"k":"n","x":3.8,"y":13},{"k":"n","x":3.65,"y":15},{"k":"n","x":3.5,"y":12},{"k":"n","x":3.35,"y":14},{"k":"n","x":3.2,"y":13},{"k":"n","x":3.05,"y":13},{"k":"n","x":2.9,"y":16},{"k":"n","x":2.75,"y":16},{"k":"n","x":2.6,"y":17},{"k":"n","x":2.45,"y":22},{"k":"n","x":2.3,"y":25},{"k":"n","x":2.15,"y":29},{"k":"n","x":2.0,"y":35},{"k":"n","x":1.9,"y":30},
{"k":"n","x":1.67,"y":27},{"k":"n","x":1.63,"y":41},{"k":"n","x":1.61,"y":54},{"k":"n","x":1.58,"y":27},{"k":"n","x":1.53,"y":15},
{"k":"n","x":1.5,"y":13},{"k":"n","x":1.35,"y":14},{"k":"n","x":1.2,"y":12},{"k":"n","x":1.05,"y":15},{"k":"n","x":0.9,"y":13},{"k":"n","x":0.75,"y":12},{"k":"n","x":0.6,"y":14},{"k":"n","x":0.45,"y":13},{"k":"n","x":0.3,"y":12},{"k":"n","x":0.15,"y":14},{"k":"n","x":0.0,"y":13},{"k":"n","x":-0.1,"y":12}
]
},
"layer": [
{"data": {"name": "rows"},
 "mark": {"type": "rect", "fill": "white", "fillOpacity": 0, "stroke": "#cacaca", "strokeWidth": 1},
 "encoding": {
  "y": {"field": "k", "type": "nominal", "axis": null,
        "scale": {"type": "band", "domain": ["a","b","c","d","e","f","g","h","i","j","k","l","m","n"], "paddingInner": 0, "paddingOuter": 0}}
 }},
{"data": {"name": "spec"},
 "mark": {"type": "line", "strokeWidth": 1.1, "clip": false},
 "encoding": {
  "x": {"field": "x", "type": "quantitative",
        "scale": {"domain": [-0.1, 10.85], "reverse": true, "nice": false, "zero": false},
        "axis": {"values": [10.75,10.5,10.25,10,9.75,9.5,9.25,9,8.75,8.5,8.25,8,7.75,7.5,7.25,7,6.75,6.5,6.25,6,5.75,5.5,5.25,5,4.75,4.5,4.25,4,3.75,3.5,3.25,3,2.75,2.5,2.25,2,1.75,1.5,1.25,1,0.75,0.5,0.25,0], "labelExpr": "indexof([9.5,8.5,7.5,6.5,5.5,4.5,3.5,2.5,1.5,0.5], datum.value) >= 0 ? format(datum.value, '.1f') : ''", "title": "ppm", "titleX": 289, "titleY": 35, "titleBaseline": "alphabetic", "titleAlign": "center"}},
  "y": {"field": "k", "type": "nominal"},
  "yOffset": {"field": "y", "type": "quantitative", "scale": {"domain": [0, 100], "range": [30, 0]}},
  "order": {"field": "x", "type": "quantitative"},
  "color": {"field": "k", "type": "nominal", "legend": null,
            "scale": {"domain": ["a","b","c","d","e","f","g","h","i","j","k","l","m","n"],
                      "range": ["#4a4ab0","#4949ac","#4848a8","#4747a3","#46469e","#454598","#444492","#42428b","#404084","#3d3d7c","#3a3a73","#37376a","#333360","#303056"]}}
 }},
{"data": {"name": "rows"},
 "mark": {"type": "text", "align": "left", "baseline": "alphabetic", "fontSize": 18, "color": "#1a1a1a", "font": "Liberation Sans"},
 "encoding": {
  "x": {"datum": 10.69, "type": "quantitative", "axis": {"values": [10.75,10.5,10.25,10,9.75,9.5,9.25,9,8.75,8.5,8.25,8,7.75,7.5,7.25,7,6.75,6.5,6.25,6,5.75,5.5,5.25,5,4.75,4.5,4.25,4,3.75,3.5,3.25,3,2.75,2.5,2.25,2,1.75,1.5,1.25,1,0.75,0.5,0.25,0], "labelExpr": "indexof([9.5,8.5,7.5,6.5,5.5,4.5,3.5,2.5,1.5,0.5], datum.value) >= 0 ? format(datum.value, '.1f') : ''", "title": "ppm", "titleX": 289, "titleY": 35, "titleBaseline": "alphabetic", "titleAlign": "center"}},
  "y": {"field": "k", "type": "nominal"},
  "yOffset": {"datum": 32, "type": "quantitative"},
  "text": {"field": "label"}
 }},
{"data": {"values": [{"k": "a", "t": "C₆D₆"}]},
 "mark": {"type": "text", "align": "left", "baseline": "alphabetic", "fontSize": 16, "fontWeight": "bold", "color": "#d42f36", "font": "DejaVu Sans"},
 "encoding": {"x": {"datum": 7.07, "type": "quantitative", "axis": {"values": [10.75,10.5,10.25,10,9.75,9.5,9.25,9,8.75,8.5,8.25,8,7.75,7.5,7.25,7,6.75,6.5,6.25,6,5.75,5.5,5.25,5,4.75,4.5,4.25,4,3.75,3.5,3.25,3,2.75,2.5,2.25,2,1.75,1.5,1.25,1,0.75,0.5,0.25,0], "labelExpr": "indexof([9.5,8.5,7.5,6.5,5.5,4.5,3.5,2.5,1.5,0.5], datum.value) >= 0 ? format(datum.value, '.1f') : ''", "title": "ppm", "titleX": 289, "titleY": 35, "titleBaseline": "alphabetic", "titleAlign": "center"}}, "y": {"field": "k", "type": "nominal"}, "yOffset": {"datum": 88, "type": "quantitative"}, "text": {"field": "t"}}},
{"data": {"values": [{"k": "a", "t": "D₂O"}]},
 "mark": {"type": "text", "align": "left", "baseline": "alphabetic", "fontSize": 16, "fontWeight": "bold", "color": "#d42f36", "font": "DejaVu Sans"},
 "encoding": {"x": {"datum": 2.39, "type": "quantitative", "axis": {"values": [10.75,10.5,10.25,10,9.75,9.5,9.25,9,8.75,8.5,8.25,8,7.75,7.5,7.25,7,6.75,6.5,6.25,6,5.75,5.5,5.25,5,4.75,4.5,4.25,4,3.75,3.5,3.25,3,2.75,2.5,2.25,2,1.75,1.5,1.25,1,0.75,0.5,0.25,0], "labelExpr": "indexof([9.5,8.5,7.5,6.5,5.5,4.5,3.5,2.5,1.5,0.5], datum.value) >= 0 ? format(datum.value, '.1f') : ''", "title": "ppm", "titleX": 289, "titleY": 35, "titleBaseline": "alphabetic", "titleAlign": "center"}}, "y": {"field": "k", "type": "nominal"}, "yOffset": {"datum": 83, "type": "quantitative"}, "text": {"field": "t"}}},
{"data": {"values": [{"k": "a", "t": "CH₂DCN"}]},
 "mark": {"type": "text", "align": "left", "baseline": "alphabetic", "fontSize": 15, "fontWeight": "bold", "color": "#d42f36", "font": "DejaVu Sans"},
 "encoding": {"x": {"datum": 1.51, "type": "quantitative", "axis": {"values": [10.75,10.5,10.25,10,9.75,9.5,9.25,9,8.75,8.5,8.25,8,7.75,7.5,7.25,7,6.75,6.5,6.25,6,5.75,5.5,5.25,5,4.75,4.5,4.25,4,3.75,3.5,3.25,3,2.75,2.5,2.25,2,1.75,1.5,1.25,1,0.75,0.5,0.25,0], "labelExpr": "indexof([9.5,8.5,7.5,6.5,5.5,4.5,3.5,2.5,1.5,0.5], datum.value) >= 0 ? format(datum.value, '.1f') : ''", "title": "ppm", "titleX": 289, "titleY": 35, "titleBaseline": "alphabetic", "titleAlign": "center"}}, "y": {"field": "k", "type": "nominal"}, "yOffset": {"datum": 32, "type": "quantitative"}, "text": {"field": "t"}}},
{"data": {"values": [{"k": "n", "t": "D₂"}]},
 "mark": {"type": "text", "align": "left", "baseline": "alphabetic", "fontSize": 16, "fontWeight": "bold", "color": "#d42f36", "font": "DejaVu Sans"},
 "encoding": {"x": {"datum": 4.115, "type": "quantitative", "axis": {"values": [10.75,10.5,10.25,10,9.75,9.5,9.25,9,8.75,8.5,8.25,8,7.75,7.5,7.25,7,6.75,6.5,6.25,6,5.75,5.5,5.25,5,4.75,4.5,4.25,4,3.75,3.5,3.25,3,2.75,2.5,2.25,2,1.75,1.5,1.25,1,0.75,0.5,0.25,0], "labelExpr": "indexof([9.5,8.5,7.5,6.5,5.5,4.5,3.5,2.5,1.5,0.5], datum.value) >= 0 ? format(datum.value, '.1f') : ''", "title": "ppm", "titleX": 289, "titleY": 35, "titleBaseline": "alphabetic", "titleAlign": "center"}}, "y": {"field": "k", "type": "nominal"}, "yOffset": {"datum": 41, "type": "quantitative"}, "text": {"field": "t"}}}
]
}
